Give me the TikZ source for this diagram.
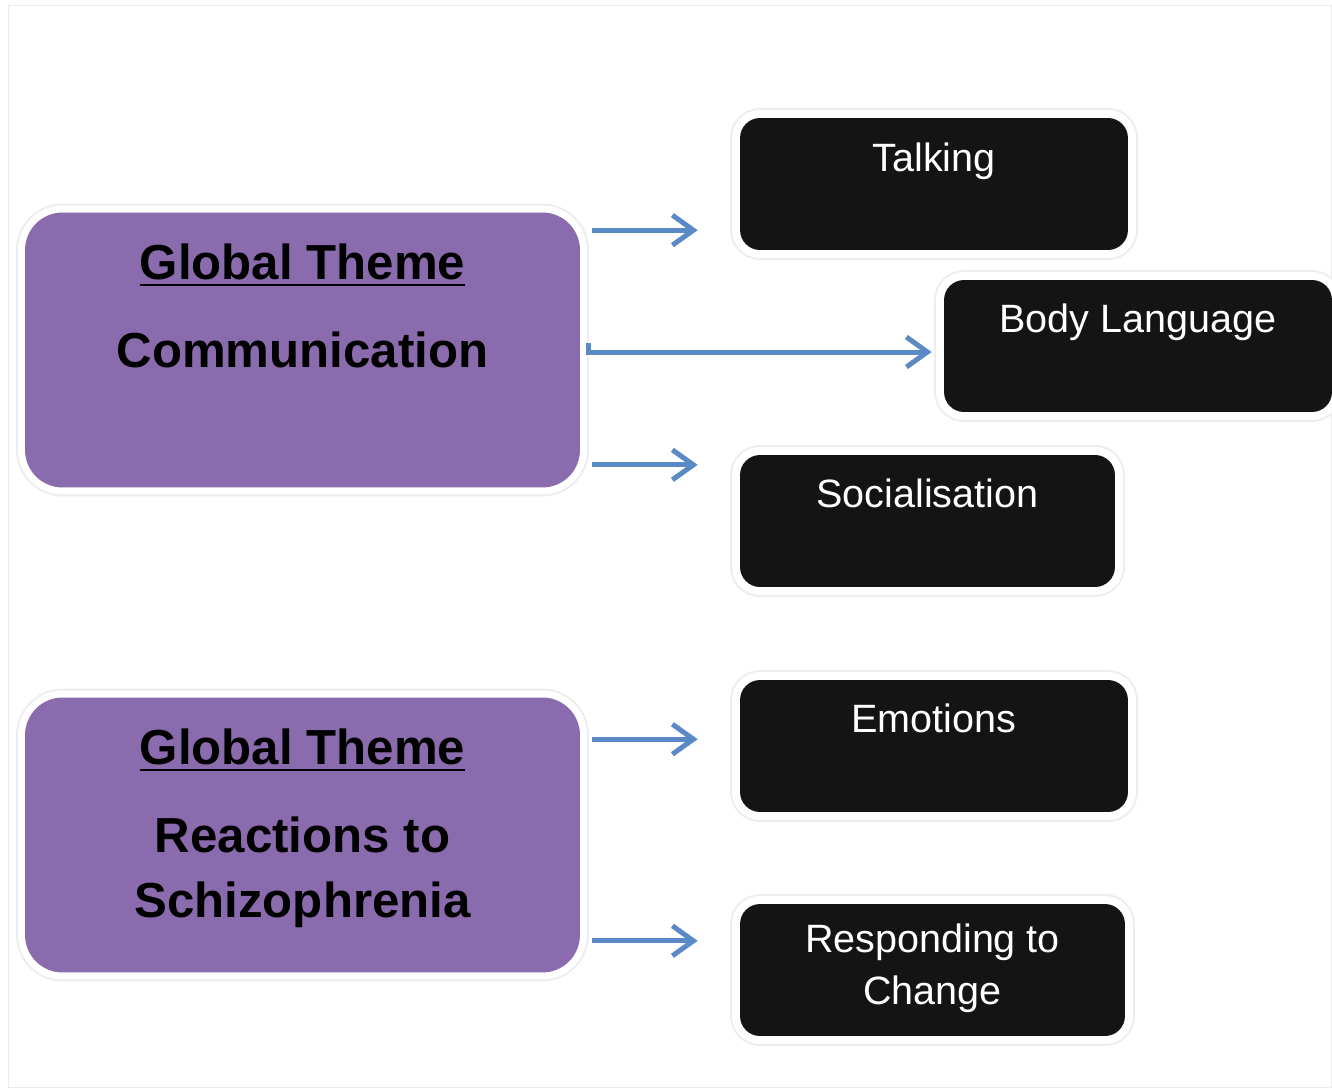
\documentclass[tikz,border=0pt]{standalone}
\usepackage{fontspec}
\setmainfont{Liberation Sans}
\usetikzlibrary{arrows.meta}
\definecolor{themepurple}{HTML}{8A6BAD}
\definecolor{flowblue}{HTML}{5A8AC6}
\newcommand{\themeul}[1]{\setbox0\hbox{#1}\rlap{\rule[-4pt]{\wd0}{1.2pt}}\box0}

\begin{document}
\begin{tikzpicture}[x=0.02cm,y=-0.02cm,
  theme/.style={rounded corners=0.75cm,fill=themepurple,inner sep=0pt,
    minimum width=11.1cm,minimum height=5.5cm,
    preaction={draw=black!7,line width=0.36cm},
    preaction={draw=white,line width=0.28cm}},
  sub/.style={rounded corners=0.4cm,fill=black!92,inner sep=0pt,
    minimum height=2.64cm,
    preaction={draw=black!7,line width=0.4cm},
    preaction={draw=white,line width=0.32cm}},
  themetext/.style={anchor=base,font=\fontsize{28}{34}\selectfont\bfseries},
  subtext/.style={anchor=base,text=white,font=\fontsize{22.5}{27}\selectfont},
  flow/.style={draw=flowblue,line width=0.1cm,
    -{Straight Barb[length=0.42cm,width=0.6cm]}}]
\useasboundingbox (0,0) rectangle (1332,1088);
\draw[black!8] (8,5) rectangle (1331,1087);

\node[theme] (comm) at (302.5,350) {};
\node[theme] (react) at (302.5,835) {};
\node[themetext] (comm-title) at ([shift={(0,67)}]comm.north) {\themeul{Global Theme}};
\node[themetext] (comm-name) at ([shift={(0,155)}]comm.north) {Communication};
\node[themetext] (react-title) at ([shift={(0,67)}]react.north) {\themeul{Global Theme}};
\node[themetext] (react-name) at ([shift={(0,155)}]react.north) {Reactions to};
\node[themetext] (react-name2) at ([shift={(0,220)}]react.north) {Schizophrenia};

\node[sub,minimum width=7.76cm] (talk) at (934,184) {};
\node[sub,minimum width=7.76cm] (body) at (1138,346) {};
\node[sub,minimum width=7.5cm] (social) at (927.5,521) {};
\node[sub,minimum width=7.76cm] (emot) at (934,746) {};
\node[sub,minimum width=7.7cm] (change) at (932.5,970) {};
\node[subtext] (talk-t) at ([shift={(0,54)}]talk.north) {Talking};
\node[subtext] (body-t) at ([shift={(0,53)}]body.north) {Body Language};
\node[subtext] (social-t) at ([shift={(0,53)}]social.north) {Socialisation};
\node[subtext] (emot-t) at ([shift={(0,53)}]emot.north) {Emotions};
\node[subtext] (change-t) at ([shift={(0,49)}]change.north) {Responding to};
\node[subtext] (change-t2) at ([shift={(0,101)}]change.north) {Change};

\coordinate (talk-from) at ([shift={(12,18)}]comm.north east);
\coordinate (body-from) at ([shift={(8,-7)}]comm.east);
\coordinate (social-from) at ([shift={(12,-23)}]comm.south east);
\coordinate (emot-from) at ([shift={(12,42)}]react.north east);
\coordinate (change-from) at ([shift={(12,-32)}]react.south east);

\draw[flow,shorten >=0.84cm] (talk-from) -- (talk-from -| talk.west);
\draw[flow,shorten >=0.24cm] (body-from) |- ([shift={(0,6)}]body.west);
\draw[flow,shorten >=0.84cm] (social-from) -- (social-from -| social.west);
\draw[flow,shorten >=0.84cm] (emot-from) -- (emot-from -| emot.west);
\draw[flow,shorten >=0.84cm] (change-from) -- (change-from -| change.west);
\end{tikzpicture}
\end{document}
